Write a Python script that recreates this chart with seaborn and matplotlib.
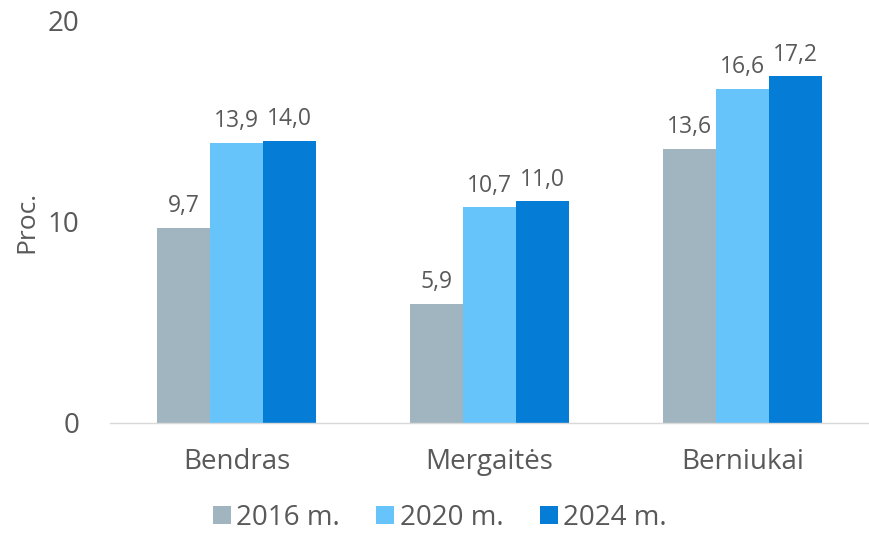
import matplotlib.pyplot as plt
import pandas as pd
import seaborn as sns

# data
categories = ["Bendras", "Mergaitės", "Berniukai"]
years = ["2016 m.", "2020 m.", "2024 m."]
values_2016 = [9.7, 5.9, 13.6]
values_2020 = [13.9, 10.7, 16.6]
values_2024 = [14.0, 11.0, 17.2]
y_ticks = [0, 10, 20]

df = pd.DataFrame({
    "group": categories * 3,
    "year": [years[0]] * 3 + [years[1]] * 3 + [years[2]] * 3,
    "value": values_2016 + values_2020 + values_2024,
})

colors = ["#A0B5BF", "#66C4FA", "#057CD5"]
text_color = "#595959"

sns.set_theme(style="white")
plt.rcParams["font.family"] = ["Open Sans", "DejaVu Sans"]

fig = plt.figure(figsize=(8.69, 5.34), dpi=100)
ax = fig.add_axes([0.1266, 0.2079, 0.8734, 0.7546])

sns.barplot(data=df, x="group", y="value", hue="year", palette=colors,
            width=0.625, gap=0, saturation=1, linewidth=0, ax=ax, legend=True)

for container in ax.containers:
    labels = [f"{v:.1f}".replace(".", ",") for v in container.datavalues]
    ax.bar_label(container, labels=labels, padding=7, fontsize=16.5, color=text_color)

ax.set_ylim(0, 20)
ax.set_xlim(-0.5, 2.5)
ax.set_yticks(y_ticks)
ax.tick_params(axis="both", length=0, labelsize=20, colors=text_color)
ax.tick_params(axis="x", pad=18)
ax.tick_params(axis="y", pad=22)
ax.set_xlabel("")
ax.set_ylabel("Proc.", fontsize=19, color=text_color, labelpad=6)

for side in ["top", "right", "left"]:
    ax.spines[side].set_visible(False)
ax.spines["bottom"].set_color("#D9D9D9")
ax.spines["bottom"].set_linewidth(1)

handles, labels = ax.get_legend_handles_labels()
ax.get_legend().remove()
fig.legend(handles, labels, loc="center", bbox_to_anchor=(0.506, 0.03),
           ncol=3, frameon=False, fontsize=20, labelcolor=text_color,
           handlelength=0.65, handleheight=0.65, handletextpad=0.2, columnspacing=1.3)

plt.savefig("out.png", dpi=100)
plt.close()
